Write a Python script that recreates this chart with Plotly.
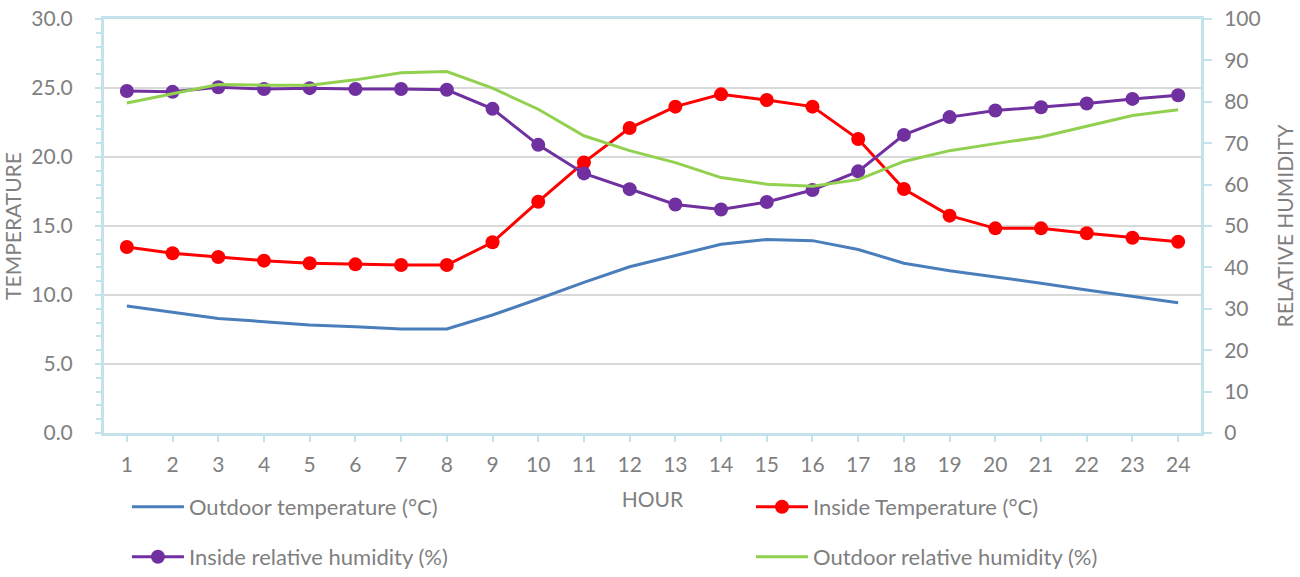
import plotly.graph_objects as go

hours = list(range(1, 25))
outdoor_temp = [9.2, 8.75, 8.3, 8.07, 7.83, 7.7, 7.54, 7.54, 8.55, 9.71, 10.92, 12.05,
                12.85, 13.67, 14.03, 13.94, 13.3, 12.3, 11.76, 11.33, 10.85, 10.36, 9.88, 9.44]
inside_temp = [13.48, 13.02, 12.75, 12.49, 12.3, 12.22, 12.17, 12.17, 13.82, 16.76, 19.61, 22.1,
               23.65, 24.54, 24.13, 23.65, 21.3, 17.68, 15.75, 14.83, 14.83, 14.47, 14.15, 13.86]
inside_rh = [82.6, 82.4, 83.5, 83.1, 83.3, 83.1, 83.1, 82.9, 78.3, 69.6, 62.7, 58.9,
             55.2, 54.0, 55.8, 58.7, 63.2, 72.0, 76.3, 77.9, 78.7, 79.6, 80.7, 81.6]
outdoor_rh = [79.7, 81.9, 84.2, 84.0, 84.0, 85.3, 87.0, 87.3, 83.3, 78.2, 71.8, 68.2,
              65.3, 61.7, 60.1, 59.6, 61.2, 65.6, 68.2, 69.9, 71.5, 74.1, 76.7, 78.1]

FONT = "Lato"
GRAY = "#7f7f7f"
AXIS = "#c3e2ea"

fig = go.Figure()
fig.add_trace(go.Scatter(x=hours, y=outdoor_temp, name="Outdoor temperature (°C)", mode="lines",
                         line=dict(color="#4a7ebb", width=3), legend="legend"))
fig.add_trace(go.Scatter(x=hours, y=inside_temp, name="Inside Temperature (°C)", mode="lines+markers",
                         line=dict(color="#ff0000", width=3), marker=dict(size=14, color="#ff0000"),
                         legend="legend2"))
fig.add_trace(go.Scatter(x=hours, y=inside_rh, name="Inside relative humidity (%)", mode="lines+markers",
                         line=dict(color="#7030a0", width=3), marker=dict(size=14, color="#7030a0"),
                         yaxis="y2", legend="legend3"))
fig.add_trace(go.Scatter(x=hours, y=outdoor_rh, name="Outdoor relative humidity (%)", mode="lines",
                         line=dict(color="#92d050", width=3), yaxis="y2", legend="legend4"))

legend_common = dict(orientation="h", xanchor="left", yanchor="middle",
                     font=dict(family=FONT, size=22, color=GRAY), itemwidth=52,
                     bgcolor="rgba(0,0,0,0)")

tick_font = dict(family=FONT, size=21, color=GRAY)
title_font = dict(family=FONT, size=21, color=GRAY)

fig.update_layout(
    width=1300, height=577,
    margin=dict(l=104, r=99, t=19, b=144, autoexpand=False),
    plot_bgcolor="white", paper_bgcolor="white",
    font=dict(family=FONT, size=20, color=GRAY),
    xaxis=dict(range=[0.5, 24.5], tickmode="array", tickvals=hours, ticktext=[str(h) for h in hours],
               showgrid=False, zeroline=False, showline=True, linecolor=AXIS, linewidth=3, mirror=True,
               ticks="outside", ticklen=6, tickcolor=AXIS, tickwidth=2, ticklabelstandoff=5,
               tickfont=tick_font, automargin=False, ticklabeloverflow="allow",
               title=dict(text="HOUR", font=title_font, standoff=18)),
    yaxis=dict(range=[0, 30], dtick=5, tickformat=".1f", showgrid=True, gridcolor="#d9d9d9", gridwidth=2,
               zeroline=False, showline=True, linecolor=AXIS, linewidth=3,
               ticks="outside", ticklen=6, tickcolor=AXIS, tickwidth=2, ticklabelstandoff=18,
               tickfont=tick_font, automargin=False, ticklabeloverflow="allow",
               minor=dict(dtick=1, ticks="outside", ticklen=5, tickcolor=AXIS, tickwidth=2, showgrid=False),
               title=dict(text="TEMPERATURE", font=title_font, standoff=25)),
    yaxis2=dict(range=[0, 100], dtick=10, overlaying="y", side="right", showgrid=False, zeroline=False,
                showline=True, linecolor=AXIS, linewidth=3,
                ticks="outside", ticklen=8, tickcolor=AXIS, tickwidth=2, ticklabelstandoff=8,
                tickfont=tick_font, automargin=False, ticklabeloverflow="allow",
                title=dict(text="RELATIVE HUMIDITY", font=title_font, standoff=19)),
    legend=dict(x=0.0209, y=-0.1787, **legend_common),
    legend2=dict(x=0.5898, y=-0.1787, **legend_common),
    legend3=dict(x=0.0209, y=-0.2995, **legend_common),
    legend4=dict(x=0.5898, y=-0.2995, **legend_common),
    showlegend=True,
)

fig.write_html("out.html", config={"displayModeBar": False},
               post_script="document.body.style.margin='0';")
